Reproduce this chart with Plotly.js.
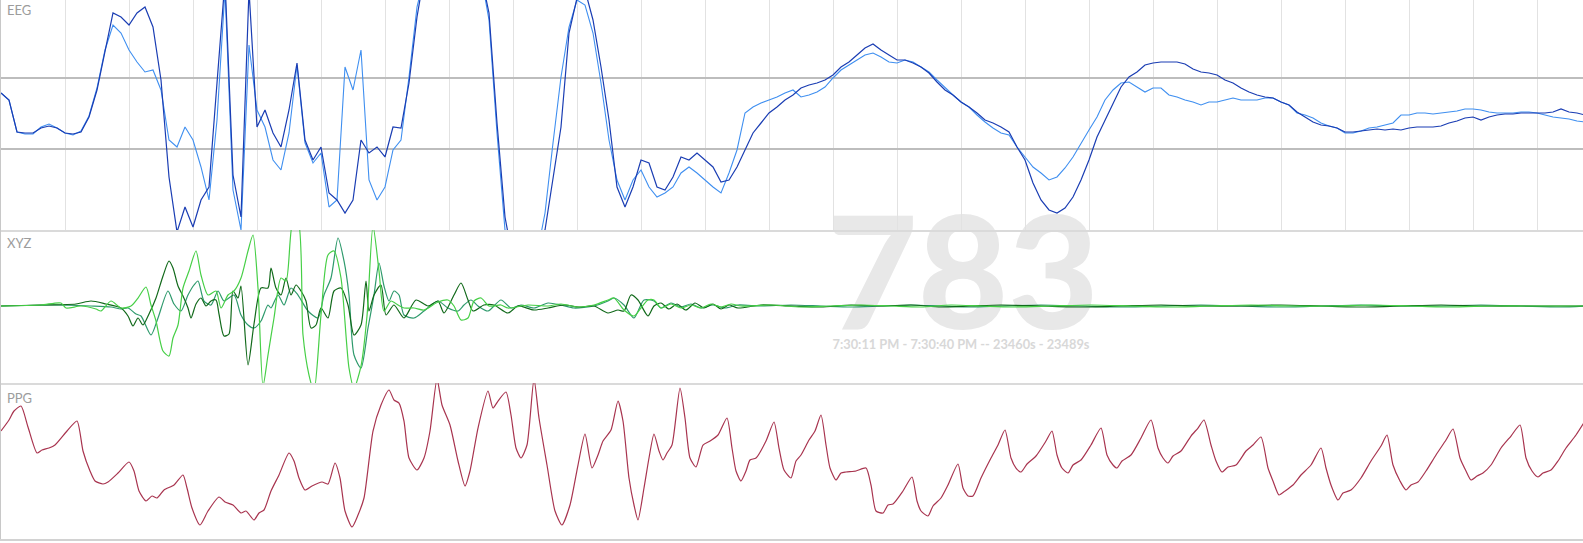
<!DOCTYPE html>
<html><head><meta charset="utf-8">
<script src="https://cdn.plot.ly/plotly-3.0.1.min.js"></script>
<style>html,body{margin:0;padding:0;background:#fff;overflow:hidden}#chart{width:1583px;height:543px}</style>
</head><body><div id="chart"></div>
<script>
const panelLabels = ['EEG', 'XYZ', 'PPG'];
const watermarkNumber = '783';
const watermarkRange = '7:30:11 PM - 7:30:40 PM -- 23460s - 23489s';

// EEG: two channels sampled every 8 time units
const eegSampleStep = 8;
const eegDark = [
  22,15,-17,-18,-18,-13,-11,-13,-18,-19,
  -17,-2,25,62,102,98,90,102,108,88,
  35,-62,-117,-92,-112,-85,-72,32,135,-60,
  -102,125,-12,5,-18,-32,5,52,-25,-45,
  -32,-78,-85,-98,-85,-25,-38,-32,-42,-12,
  -13,32,98,145,175,195,205,205,195,175,
  140,102,-8,-102,-145,-165,-165,-145,-115,-65,
  -12,82,117,125,95,48,-5,-72,-92,-72,
  -45,-48,-72,-75,-62,-42,-45,-38,-45,-52,
  -67,-65,-52,-35,-18,-8,2,8,15,20,
  27,30,32,35,40,48,53,60,67,71,
  65,60,55,55,52,48,42,33,25,20,
  13,8,2,-5,-8,-12,-17,-32,-45,-68,
  -85,-95,-98,-93,-82,-65,-45,-22,-5,12,
  28,38,43,50,52,53,53,53,51,46,
  43,42,40,35,32,27,23,20,18,17,
  13,10,3,-2,-7,-10,-11,-13,-17,-17,
  -16,-15,-14,-15,-14,-15,-13,-12,-12,-12,
  -11,-8,-6,-3,-2,-5,-2,0,1,1,
  2,2,2,2,3,6,3,2,0
];
const eegLight = [
  22,15,-17,-19,-19,-12,-9,-13,-18,-20,
  -16,-1,27,65,90,82,65,53,43,45,
  25,-25,-32,-12,-25,-52,-85,-5,125,-75,
  -115,70,5,-12,-45,-55,-18,50,-28,-48,
  -38,-92,-85,48,25,65,-65,-85,-72,-35,
  -25,38,108,145,175,195,205,205,195,175,
  140,95,-18,-115,-150,-170,-165,-140,-98,-28,
  38,88,115,110,82,32,-25,-65,-85,-65,
  -55,-72,-82,-78,-72,-58,-52,-58,-65,-72,
  -78,-58,-35,2,8,12,15,18,22,25,
  18,20,23,28,37,45,50,55,60,62,
  58,53,52,55,53,48,43,35,27,20,
  13,8,0,-7,-13,-18,-20,-32,-42,-52,
  -58,-65,-62,-53,-42,-28,-15,-2,15,25,
  32,33,28,23,27,27,20,18,15,13,
  10,13,13,15,17,15,15,15,17,17,
  13,10,2,0,-3,-8,-11,-13,-18,-18,
  -16,-13,-12,-10,-8,0,0,2,2,1,
  2,3,4,6,6,5,3,2,2,2,
  3,3,2,0,-2,-3,-4,-6,-7
];

// XYZ accelerometer: [time, value] turning points per axis
const xyzX = [[0,0],[40,1],[75,2],[90,5],[105,2],[120,-2],[127,-10],[132,-20],[137,-12],[142,-19],[148,-8],[155,8],[162,30],[168,45],[172,38],[177,20],[182,10],[187,-2],[190,-12],[195,2],[200,8],[205,0],[210,5],[215,6],[218,-8],[223,-30],[228,-28],[232,15],[237,8],[240,20],[247,-59],[253,-18],[260,18],[267,18],[270,38],[275,18],[280,11],[285,28],[290,11],[295,21],[300,15],[305,5],[310,-22],[315,-19],[320,-2],[327,-12],[333,15],[340,18],[347,1],[353,-29],[360,-19],[365,25],[368,-5],[373,11],[380,21],[385,-9],[393,1],[403,-12],[415,6],[427,0],[437,5],[443,-7],[453,11],[460,23],[467,6],[472,-5],[483,1],[493,1],[507,-7],[517,0],[533,-4],[547,-2],[563,1],[578,-1],[593,0],[607,-7],[617,-4],[623,-5],[630,11],[637,6],[647,-10],[653,0],[660,3],[668,-3],[676,2],[685,-4],[694,3],[703,-2],[712,2],[720,-3],[728,1],[737,-2],[760,1],[790,0],[820,-1],[850,1],[880,0],[910,1],[940,-1],[970,0],[1000,1],[1040,0],[1080,-1],[1120,0],[1160,1],[1200,0],[1240,0],[1280,1],[1320,0],[1360,-1],[1400,0],[1440,1],[1480,0],[1520,0],[1560,0],[1583,0]];
const xyzY = [[0,0],[40,1],[60,3],[65,-2],[80,0],[95,-3],[100,-5],[110,5],[120,-2],[130,0],[137,8],[145,19],[150,1],[155,-15],[162,-45],[168,-50],[172,-32],[177,-19],[182,18],[188,35],[195,55],[200,31],[207,11],[215,15],[220,-2],[227,11],[233,15],[240,28],[247,55],[252,71],[257,18],[262,-80],[267,-49],[273,-12],[280,28],[285,25],[292,85],[297,85],[302,-29],[308,-69],[313,-85],[320,-9],[327,51],[333,55],[340,28],[348,-62],[353,-82],[360,-60],[366,-10],[372,80],[378,35],[383,-5],[390,5],[397,1],[403,-2],[413,-2],[423,-4],[437,4],[447,6],[453,0],[460,-14],[467,-12],[473,5],[480,8],[488,0],[500,1],[507,-2],[527,1],[547,0],[560,2],[577,-1],[593,1],[607,6],[613,8],[623,-4],[633,-10],[640,-2],[647,6],[653,6],[660,-2],[670,2],[680,-2],[690,1],[700,-2],[710,2],[720,-1],[730,2],[740,0],[770,1],[800,-1],[830,0],[860,1],[890,0],[920,-1],[950,1],[980,0],[1010,-1],[1050,0],[1090,1],[1130,0],[1170,-1],[1210,0],[1250,1],[1290,0],[1330,0],[1370,1],[1410,0],[1450,-1],[1490,0],[1530,0],[1583,0]];
const xyzZ = [[0,0],[50,1],[90,0],[110,-1],[120,-3],[127,-2],[135,-8],[140,-10],[150,-29],[157,-12],[167,15],[173,2],[180,-5],[187,11],[193,21],[197,25],[203,5],[210,1],[217,15],[223,5],[233,11],[240,-9],[247,-19],[253,-22],[260,-15],[267,1],[270,-2],[277,11],[283,1],[290,18],[297,11],[307,-5],[317,-12],[323,11],[330,28],[337,68],[343,45],[348,11],[353,-49],[360,-62],[367,-22],[373,11],[378,43],[383,20],[388,5],[393,15],[398,11],[403,-9],[413,-12],[423,-5],[437,5],[447,-2],[457,-5],[463,1],[470,6],[477,0],[487,-5],[500,6],[510,-2],[520,1],[533,-2],[547,3],[560,1],[573,-2],[593,0],[607,5],[613,8],[623,1],[633,-12],[643,6],[653,5],[660,-2],[670,3],[680,-1],[690,2],[700,-2],[712,1],[724,-2],[737,1],[760,0],[790,1],[820,0],[850,-1],[880,0],[910,1],[940,0],[970,-1],[1000,0],[1040,1],[1080,0],[1120,-1],[1160,0],[1200,1],[1240,0],[1280,-1],[1320,0],[1360,1],[1400,0],[1440,0],[1480,1],[1520,0],[1560,-1],[1583,0]];

// PPG: [time, value]
const ppg = [[0,108],[8,119],[13,128],[20,133],[27,112],[36,86],[41,89],[48,91],[54,94],[66,108],[76,118],[82,88],[89,68],[94,58],[102,55],[107,57],[117,66],[128,77],[133,68],[138,48],[145,38],[151,43],[156,41],[163,49],[173,54],[182,64],[186,51],[191,31],[199,14],[207,28],[218,42],[224,37],[232,34],[240,26],[245,28],[253,19],[258,26],[263,29],[270,48],[278,64],[288,86],[293,78],[298,61],[304,49],[311,53],[321,57],[327,55],[334,76],[339,61],[344,28],[351,12],[357,24],[363,41],[372,108],[380,134],[388,149],[393,139],[398,136],[403,118],[408,81],[416,69],[423,81],[429,108],[436,160],[441,134],[449,114],[457,78],[464,53],[469,68],[477,111],[487,148],[492,131],[497,138],[505,147],[510,124],[515,91],[520,81],[526,94],[533,160],[538,121],[546,74],[554,28],[561,14],[569,34],[577,74],[584,105],[591,71],[597,84],[602,98],[610,109],[617,138],[622,118],[628,61],[633,34],[637,19],[643,51],[648,81],[653,105],[658,88],[662,79],[666,86],[671,94],[679,151],[684,121],[689,81],[695,72],[702,94],[709,98],[717,104],[726,121],[731,91],[735,68],[740,58],[745,68],[749,79],[755,81],[765,98],[773,117],[778,91],[783,69],[790,61],[795,78],[800,84],[808,99],[814,108],[820,124],[825,94],[829,71],[835,59],[840,66],[845,67],[855,68],[865,71],[870,54],[875,28],[882,26],[887,34],[892,35],[902,48],[911,62],[916,38],[920,28],[927,23],[932,33],[940,41],[947,54],[957,75],[962,51],[967,43],[972,43],[980,61],[990,81],[997,94],[1004,109],[1010,81],[1015,71],[1020,67],[1026,75],[1035,83],[1045,98],[1051,108],[1056,84],[1061,71],[1067,66],[1072,74],[1080,79],[1090,94],[1100,111],[1106,84],[1112,74],[1116,71],[1121,78],[1130,84],[1140,101],[1150,119],[1157,91],[1162,81],[1167,76],[1172,83],[1180,88],[1190,103],[1197,111],[1203,119],[1210,94],[1215,78],[1221,67],[1227,72],[1235,74],[1245,88],[1252,94],[1260,102],[1267,71],[1272,58],[1278,44],[1284,48],[1292,54],[1300,64],[1310,74],[1320,91],[1325,71],[1330,54],[1337,39],[1342,46],[1350,49],[1360,61],[1370,78],[1380,93],[1386,104],[1392,74],[1399,58],[1405,49],[1410,54],[1417,57],[1425,68],[1435,84],[1445,99],[1452,110],[1459,81],[1465,68],[1470,59],[1476,63],[1482,66],[1490,74],[1500,91],[1510,103],[1519,114],[1525,81],[1531,68],[1537,62],[1542,66],[1550,69],[1557,78],[1565,91],[1575,104],[1584,118]];

const eegT = eegDark.map((_, i) => i * eegSampleStep);
const col = (arr, k) => arr.map(p => p[k]);

const traces = [
  // watermark (first subplot -> drawn beneath all panel grids and lines)
  {x:[962], y:[290], xaxis:'x', yaxis:'y', mode:'text', text:[watermarkNumber], cliponaxis:false,
   textposition:'middle center', hoverinfo:'skip', showlegend:false,
   textfont:{family:'Lato, "Open Sans", sans-serif', size:156, color:'#e8e8e8', weight:900}},
  {x:[960], y:[346], xaxis:'x', yaxis:'y', mode:'text', text:[watermarkRange], cliponaxis:false,
   textposition:'middle center', hoverinfo:'skip', showlegend:false,
   textfont:{family:'Lato, "Open Sans", sans-serif', size:12.8, color:'#d8d8d8', weight:700}},
  // EEG
  {x:eegT, y:eegLight, xaxis:'x2', yaxis:'y2', mode:'lines', line:{color:'#3f8ff0', width:1.1}, hoverinfo:'skip', showlegend:false},
  {x:eegT, y:eegDark, xaxis:'x2', yaxis:'y2', mode:'lines', line:{color:'#1a3db3', width:1.2}, hoverinfo:'skip', showlegend:false},
  // XYZ
  {x:col(xyzZ,0), y:col(xyzZ,1), xaxis:'x3', yaxis:'y3', mode:'lines', line:{color:'#2e9a6c', width:1.2, shape:'spline', smoothing:0.7}, hoverinfo:'skip', showlegend:false},
  {x:col(xyzX,0), y:col(xyzX,1), xaxis:'x3', yaxis:'y3', mode:'lines', line:{color:'#11691a', width:1.2, shape:'spline', smoothing:0.7}, hoverinfo:'skip', showlegend:false},
  {x:col(xyzY,0), y:col(xyzY,1), xaxis:'x3', yaxis:'y3', mode:'lines', line:{color:'#46cf46', width:1.2, shape:'spline', smoothing:0.7}, hoverinfo:'skip', showlegend:false},
  // PPG
  {x:col(ppg,0), y:col(ppg,1), xaxis:'x4', yaxis:'y4', mode:'lines', line:{color:'#a8344f', width:1.2, shape:'spline', smoothing:0.6}, hoverinfo:'skip', showlegend:false}
];

const hidden = {showgrid:false, zeroline:false, showticklabels:false, ticks:'', fixedrange:true};
const layout = {
  width:1583, height:543,
  margin:{l:1, r:0, t:0, b:4},
  paper_bgcolor:'#ffffff', plot_bgcolor:'rgba(0,0,0,0)',
  showlegend:false, hovermode:false,
  xaxis:{domain:[0,1], range:[0,1582], visible:false, fixedrange:true},
  yaxis:{domain:[0,1], range:[539,0], visible:false, fixedrange:true},
  xaxis2:Object.assign({}, hidden, {domain:[0,1], anchor:'y2', range:[0,1582], showgrid:true, gridcolor:'#e2e2e2', gridwidth:1, tick0:0, dtick:64, showline:true, linecolor:'#dadada', linewidth:2}),
  yaxis2:Object.assign({}, hidden, {domain:[0.5733,1], anchor:'x2', range:[-115,115], tickmode:'array', tickvals:[37,-34], showgrid:true, gridcolor:'#bdbdbd', gridwidth:2, showline:true, linecolor:'#c8c8c8', linewidth:1}),
  xaxis3:Object.assign({}, hidden, {domain:[0,1], anchor:'y3', range:[0,1582], showline:true, linecolor:'#dadada', linewidth:2}),
  yaxis3:Object.assign({}, hidden, {domain:[0.2894,0.5733], anchor:'x3', range:[-77,76], showline:true, linecolor:'#c8c8c8', linewidth:1}),
  xaxis4:Object.assign({}, hidden, {domain:[0,1], anchor:'y4', range:[0,1582], showline:true, linecolor:'#d2d2d2', linewidth:2}),
  yaxis4:Object.assign({}, hidden, {domain:[0,0.2894], anchor:'x4', range:[0,156], showline:true, linecolor:'#c8c8c8', linewidth:1}),
  annotations: panelLabels.map((t, i) => ({
    text:t, xref:'paper', yref:'paper', x:0.0025, y:[0.9814, 0.549, 0.2616][i],
    xanchor:'left', yanchor:'middle', showarrow:false,
    font:{family:'Lato, "Open Sans", sans-serif', size:13, color:'#9c9c9c'}
  }))
};

Plotly.newPlot('chart', traces, layout, {displayModeBar:false, staticPlot:true});
</script>
</body></html>
